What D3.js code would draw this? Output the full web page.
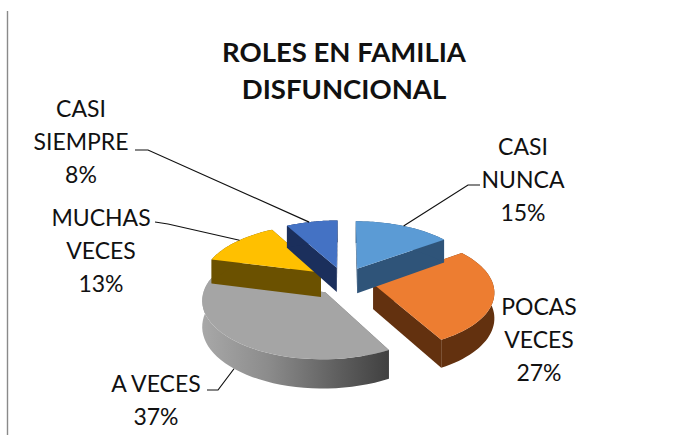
<!DOCTYPE html>
<html><head><meta charset="utf-8">
<script src="https://cdn.jsdelivr.net/npm/d3@7"></script>
<style>html,body{margin:0;padding:0;background:#fff}svg{display:block}text{font-family:Lato,Carlito,sans-serif;fill:#111}</style>
</head><body><svg id="c" width="673" height="435"></svg>
<script>
const categories=["CASI NUNCA","POCAS VECES","A VECES","MUCHAS VECES","CASI SIEMPRE"];
const values=[15,27,37,13,8];
const percentLabels=["15%","27%","37%","13%","8%"];
const topColors=["#5b9bd5","#ed7d31","#a5a5a5","#ffc000","#4472c4"];
const sideColors=["#2f5479","#63310f","#6b6b6b","#6b5100","#1b2f5c"];
const titleLines=["ROLES EN FAMILIA","DISFUNCIONAL"];
const labelLines=[["CASI","NUNCA","15%"],["POCAS","VECES","27%"],["A VECES","37%"],["MUCHAS","VECES","13%"],["CASI","SIEMPRE","8%"]];
const labelAt=[[523,155],[539,315],[156,392],[101,226],[81,117]];
const leaders=[{f:.5,elbow:[[480,185],[468,185]]},{f:null},{f:.53,elbow:[[207,390],[218,390]],wall:true},{f:.55,elbow:[[155,222],[168,224]]},{f:.45,elbow:[[135,150],[148,150]]}];
const drawOrder=[2,1,3,4,0];

const cx=344,cy=281,R=119,r=56,k=.12,explode=.25,depth=25;
const svg=d3.select("#c");
const defs=svg.append("defs");
const g=defs.append("linearGradient").attr("id","grayWall").attr("x1",0).attr("x2",1).attr("y1",0).attr("y2",0);
[[0,"#a8a8a8"],[.35,"#8c8c8c"],[.75,"#5c5c5c"],[1,"#404040"]].forEach(d=>g.append("stop").attr("offset",d[0]).attr("stop-color",d[1]));

svg.append("line").attr("x1",7.5).attr("x2",7.5).attr("y1",11).attr("y2",435).attr("stroke","#8a8a8a").attr("stroke-width",1.4);

const arcs=d3.pie().sort(null).value(d=>d)(values);
function proj(u,v,down){const s=1/(1+k*v);return [cx+R*u*s,cy-r*v*s+(down?depth*s:0)];}
function pt(a,rad,i,down){const m=(a.startAngle+a.endAngle)/2;
  const u=explode*Math.sin(m)+rad*Math.sin(i),v=explode*Math.cos(m)+rad*Math.cos(i);return proj(u,v,down);}
const line=d3.line();
function rim(a){return d3.range(0,41).map(j=>a.startAngle+(a.endAngle-a.startAngle)*j/40);}

const marks=svg.append("g");
drawOrder.forEach(idx=>{
  const a=arcs[idx],angs=rim(a),s=marks.append("g");
  const c0=pt(a,0,0,false),c1=pt(a,0,0,true);
  const wall=idx===2?"url(#grayWall)":sideColors[idx];
  const A=pt(a,1,a.startAngle,false),A1=pt(a,1,a.startAngle,true);
  const B=pt(a,1,a.endAngle,false),B1=pt(a,1,a.endAngle,true);
  s.append("path").attr("d",line([c0,A,A1,c1])+"Z").attr("fill",sideColors[idx]);
  s.append("path").attr("d",line([c0,B,B1,c1])+"Z").attr("fill",sideColors[idx]);
  const outer=angs.map(t=>pt(a,1,t,false)).concat(angs.slice().reverse().map(t=>pt(a,1,t,true)));
  s.append("path").attr("d",line(outer)+"Z").attr("fill",wall);
  const top=[c0].concat(angs.map(t=>pt(a,1,t,false)));
  s.append("path").attr("d",line(top)+"Z").attr("fill",topColors[idx]);
});

leaders.forEach((l,i)=>{ if(l.f===null) return;
  const a=arcs[i],t=a.startAngle+(a.endAngle-a.startAngle)*l.f;
  const end=pt(a,1,t,!!l.wall);
  svg.append("path").attr("d",line([...l.elbow,end])).attr("fill","none").attr("stroke","#111").attr("stroke-width",1.2);
});

labelLines.forEach((ls,i)=>{
  const t=svg.append("text").attr("text-anchor","middle").attr("font-size",23);
  ls.forEach((s,j)=>t.append("tspan").attr("x",labelAt[i][0]).attr("y",labelAt[i][1]+j*33).text(s));
});
titleLines.forEach((s,i)=>svg.append("text").attr("x",344).attr("y",62+i*37).attr("text-anchor","middle").attr("font-size",27.5).attr("font-weight",700).text(s));
</script></body></html>
